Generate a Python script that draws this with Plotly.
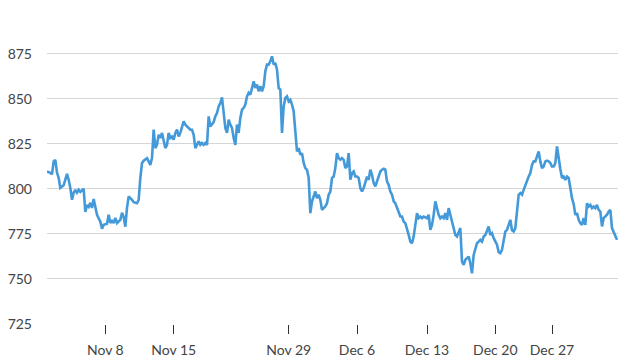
import plotly.graph_objects as go

# Trading-session bar index (~8 bars per trading day, weekends/holidays skipped)
bar_index = [
    0, 2, 3, 4, 5, 6, 7, 8, 10, 11, 12, 13, 14, 15, 16, 17, 18, 19, 20, 22,
    23, 24, 25, 26, 27, 28, 29, 30, 32, 33, 34, 36, 37, 38, 39, 40, 41, 42, 44, 45,
    46, 47, 48, 49, 51, 52, 54, 55, 56, 57, 58, 60, 61, 62, 63, 64, 65, 66, 67, 68,
    69, 70, 71, 72, 73, 74, 75, 76, 77, 78, 79, 80, 81, 82, 83, 85, 86, 87, 88, 89,
    91, 92, 93, 94, 95, 96, 97, 98, 99, 100, 101, 102, 103, 104, 105, 106, 107, 108, 109, 110,
    111, 112, 113, 114, 115, 116, 117, 118, 119, 120, 121, 122, 123, 124, 125, 126, 127, 128, 129, 130,
    131, 132, 133, 134, 135, 136, 137, 138, 139, 140, 141, 142, 143, 144, 145, 146, 147, 148, 149, 150,
    151, 152, 153, 154, 155, 156, 157, 158, 159, 160, 161, 162, 163, 164, 165, 166, 167, 168, 169, 170,
    171, 172, 173, 174, 175, 176, 177, 178, 179, 180, 181, 182, 183, 184, 185, 186, 187, 188, 189, 190,
    191, 192, 193, 194, 195, 196, 197, 198, 199, 200, 201, 202, 203, 204, 205, 206, 207, 208, 209, 210,
    211, 212, 213, 214, 215, 216, 217, 218, 219, 220, 221, 222, 223, 224, 225, 226, 228, 229, 230, 231,
    232, 233, 234, 235, 236, 237, 238, 239, 240, 241, 242, 243, 244, 245, 246, 247, 248, 249, 250, 251,
    252, 253, 254, 255, 256, 257, 258, 259, 260, 261, 262, 263, 264, 265, 266, 267, 268, 269, 270, 271,
    272, 273, 274, 275, 276, 277, 278, 279, 280, 281, 282, 283, 284, 285, 286, 287, 288, 289, 290, 291,
    292, 293, 294, 295, 296, 297, 298, 299, 300, 301, 302, 303, 304, 305, 306, 307, 308, 309, 310, 311,
    312, 313, 314, 315, 316, 317, 318, 319, 320, 321, 322, 323, 324, 325, 326, 327, 328, 329, 330, 331,
    332, 333, 334, 335, 336, 337, 338, 339, 340, 341, 342,
]

price = [
    809.6, 808.9, 808.0, 815.2, 816.0, 809.0, 806.0, 800.5, 802.0, 805.0, 808.3, 805.0, 800.5, 793.9, 797.8, 799.4, 797.8, 799.4, 798.3, 800.0,
    787.2, 791.0, 790.0, 792.2, 789.4, 794.4, 790.0, 785.6, 781.7, 777.8, 780.0, 780.6, 785.6, 781.0, 782.2, 781.0, 783.9, 781.0, 782.8, 786.7,
    784.4, 779.0, 789.4, 795.7, 793.9, 792.6, 792.0, 793.9, 806.0, 814.3, 815.6, 817.0, 815.2, 813.3, 817.0, 832.8, 822.6, 824.4, 830.0, 828.2,
    831.0, 827.2, 822.6, 824.4, 831.0, 828.2, 829.0, 827.2, 831.0, 832.8, 829.0, 831.0, 833.7, 837.4, 835.6, 834.0, 832.8, 832.8, 830.0, 822.6,
    826.3, 824.4, 825.4, 824.4, 825.4, 824.4, 840.2, 834.6, 835.6, 837.0, 840.2, 842.0, 845.7, 847.6, 850.7, 841.1, 833.7, 831.0, 838.3, 835.6,
    833.7, 828.2, 824.4, 835.6, 831.0, 839.3, 843.9, 844.8, 846.7, 851.3, 853.2, 852.2, 855.9, 859.6, 855.9, 857.8, 854.1, 856.9, 854.1, 856.9,
    865.2, 868.9, 868.9, 870.7, 873.5, 868.9, 869.8, 866.1, 855.9, 855.0, 831.0, 845.7, 850.4, 851.3, 848.5, 849.4, 846.7, 843.0, 831.8, 820.7,
    822.6, 818.9, 819.8, 814.3, 811.5, 810.6, 806.0, 786.5, 793.0, 795.7, 798.5, 794.8, 796.7, 793.9, 788.3, 789.3, 790.2, 792.0, 796.7, 798.5,
    806.0, 806.8, 811.5, 819.8, 817.0, 816.1, 817.0, 816.1, 811.5, 812.4, 819.8, 805.0, 808.7, 809.6, 806.8, 806.8, 806.0, 800.4, 798.5, 800.4,
    804.1, 806.8, 805.0, 810.6, 807.8, 803.2, 801.3, 804.1, 806.8, 809.6, 810.6, 811.1, 810.6, 804.1, 802.2, 798.5, 796.7, 793.0, 792.0, 789.3,
    787.4, 784.6, 784.6, 781.8, 780.9, 778.2, 774.4, 770.7, 769.8, 773.5, 780.0, 786.5, 783.7, 784.6, 783.7, 784.6, 783.7, 785.6, 777.2, 780.0,
    785.6, 793.0, 789.3, 785.6, 783.7, 784.6, 783.7, 786.5, 782.8, 789.3, 785.6, 781.8, 779.1, 774.4, 773.5, 776.3, 778.2, 759.6, 757.8, 760.6,
    761.5, 762.4, 758.7, 753.1, 763.3, 766.1, 769.8, 770.7, 771.7, 770.7, 773.5, 774.4, 777.2, 779.1, 774.4, 775.4, 772.6, 771.0, 769.0, 764.8,
    764.3, 766.1, 771.7, 776.3, 777.2, 780.5, 782.8, 777.0, 776.3, 778.2, 787.4, 796.7, 797.6, 796.7, 799.4, 802.2, 804.1, 806.8, 808.7, 813.3,
    815.2, 815.2, 818.0, 820.7, 815.2, 811.5, 812.4, 815.2, 815.6, 815.2, 814.3, 812.4, 812.4, 814.3, 823.5, 816.1, 811.0, 806.0, 806.8, 805.0,
    806.8, 806.0, 799.4, 794.8, 791.5, 785.6, 786.5, 782.8, 780.9, 780.0, 783.7, 780.0, 792.0, 790.2, 791.1, 789.3, 790.2, 789.3, 791.1, 788.3,
    787.4, 779.1, 783.7, 784.6, 785.6, 787.4, 788.3, 778.2, 776.0, 773.5, 771.7,
]

# First bar of each labelled trading day
tick_bars = [35, 76, 145, 186, 228, 269, 303]
tick_labels = ["Nov 8", "Nov 15", "Nov 29", "Dec 6", "Dec 13", "Dec 20", "Dec 27"]

y_ticks = [725, 750, 775, 800, 825, 850, 875, 900]
y_labels = ["725", "750", "775", "800", "825", "850", "875", ""]

fig = go.Figure()
fig.add_trace(go.Scatter(
    x=bar_index, y=price, mode="lines",
    line=dict(color="#4499d9", width=2.6),
    hoverinfo="skip", showlegend=False,
))

font = dict(family="Lato, sans-serif", size=14, color="#444444")

fig.update_layout(
    width=629, height=364,
    margin=dict(l=47, r=11, t=8, b=40, autoexpand=False),
    paper_bgcolor="white", plot_bgcolor="white",
    font=font,
    xaxis=dict(
        range=[0, 342.6], tickmode="array", tickvals=tick_bars, ticktext=tick_labels,
        showgrid=False, zeroline=False, showline=False, automargin=False,
        ticks="outside", ticklen=9, tickwidth=1.2, tickcolor="#333333",
        ticklabelstandoff=4, tickfont=font,
    ),
    yaxis=dict(
        range=[725, 900.3], tickmode="array", tickvals=y_ticks, ticktext=y_labels,
        showgrid=True, gridcolor="#d6d6d6", gridwidth=1, zeroline=False, showline=False,
        automargin=False, ticks="", ticklabelstandoff=14, tickfont=font,
    ),
)

fig.write_html(
    "out.html",
    config={"displayModeBar": False},
    post_script="document.body.style.margin='0';document.body.style.overflow='hidden';",
)
